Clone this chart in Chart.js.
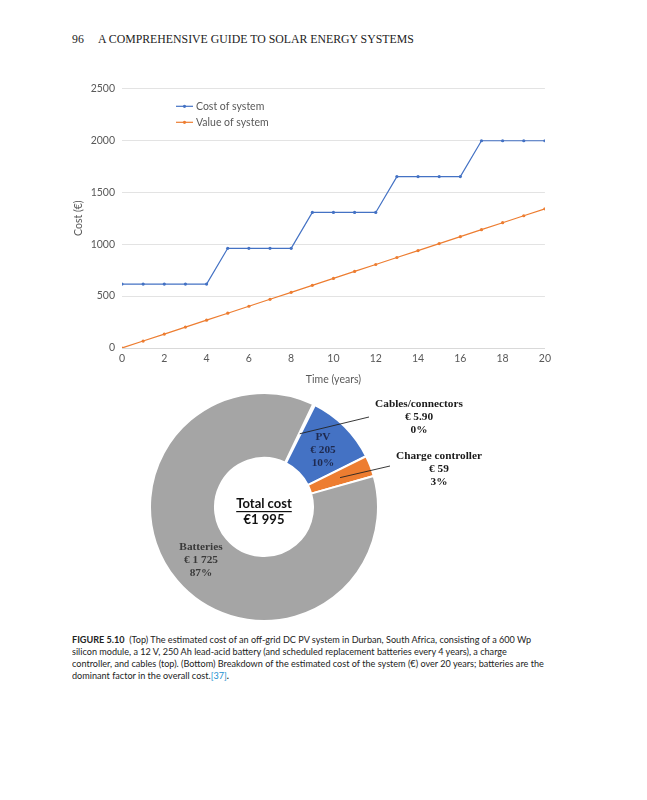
<!DOCTYPE html>
<html>
<head>
<meta charset="utf-8">
<script src="https://cdn.jsdelivr.net/npm/chart.js@4.4.1/dist/chart.umd.min.js"></script>
<style>
    body { margin: 0; background: #fff; width: 647px; height: 800px; position: relative; overflow: hidden; }
    #header { position: absolute; left: 72px; top: 32px; font-family: "Liberation Serif", "DejaVu Serif", serif; font-size: 11.8px; color: #222; white-space: nowrap; }
    #header span { display: inline-block; width: 26px; }
    #lineBox { position: absolute; left: 66px; top: 75px; width: 489px; height: 315px; }
    #pieBox { position: absolute; left: 130px; top: 390px; width: 400px; height: 235px; }
    #caption { position: absolute; left: 72px; top: 633px; font-family: Lato, "Noto Sans", sans-serif; font-size: 10px; line-height: 12px; color: #222; white-space: nowrap; transform: scaleX(0.91); transform-origin: left top; }
    #caption b { font-weight: 700; }
    #caption .ref { color: #1a8fd0; }
</style>
</head>
<body>
<div id="header"><span>96</span>A COMPREHENSIVE GUIDE TO SOLAR ENERGY SYSTEMS</div>
<div id="lineBox"><canvas id="lineChart"></canvas></div>
<div id="pieBox"><canvas id="pieChart"></canvas></div>
<div id="caption"><b>FIGURE 5.10</b>&nbsp; (Top) The estimated cost of an off-grid DC PV system in Durban, South Africa, consisting of a 600 Wp<br>silicon module, a 12 V, 250 Ah lead-acid battery (and scheduled replacement batteries every 4 years), a charge<br>controller, and cables (top). (Bottom) Breakdown of the estimated cost of the system (€) over 20 years; batteries are the<br>dominant factor in the overall cost.<span class="ref">[37]</span><b>.</b></div>

<script>
// donnees du graphique du haut
const years = [0, 1, 2, 3, 4, 5, 6, 7, 8, 9, 10, 11, 12, 13, 14, 15, 16, 17, 18, 19, 20];
const costOfSystem = [615, 615, 615, 615, 615, 960, 960, 960, 960, 1305, 1305, 1305, 1305, 1650, 1650, 1650, 1650, 1995, 1995, 1995, 1995];
const valueOfSystem = [0, 67, 134, 201, 268, 335, 402, 469, 536, 603, 670, 737, 804, 871, 938, 1005, 1072, 1139, 1206, 1273, 1340];
const seriesNames = ['Cost of system', 'Value of system'];

// donnees du graphique du bas
const pieLabels = ['Cables/connectors', 'PV', 'Charge controller', 'Batteries'];
const pieCosts = [5.9, 205, 59, 1725];
const pieCostText = ['€ 5.90', '€ 205', '€ 59', '€ 1 725'];
const piePercents = ['0%', '10%', '3%', '87%'];
const totalText = '€1 995';

const BLUE = '#4472C4';
const ORANGE = '#ED7D31';
const GREY_TXT = '#595959';
const TICK_FONT = {family: 'Lato, "Noto Sans", sans-serif', size: 10.5};

function toPoints(xs, ys) {
    return xs.map((x, i) => ({x: x, y: ys[i]}));
}

// legende dessinee a la main (style Excel, a l'interieur du graphique)
const innerLegend = {
    id: 'innerLegend',
    afterDraw(chart) {
        const ctx = chart.ctx;
        const x0 = chart.chartArea.left + 54;
        let y = chart.chartArea.top + 18;
        ctx.save();
        ctx.font = '10.5px Lato, "Noto Sans", sans-serif';
        ctx.textBaseline = 'middle';
        for (const ds of chart.data.datasets) {
            ctx.strokeStyle = ds.borderColor;
            ctx.lineWidth = 1.2;
            ctx.beginPath();
            ctx.moveTo(x0, y);
            ctx.lineTo(x0 + 17, y);
            ctx.stroke();
            ctx.fillStyle = ds.borderColor;
            ctx.beginPath();
            ctx.arc(x0 + 8.5, y, 1.6, 0, Math.PI * 2);
            ctx.fill();
            ctx.fillStyle = GREY_TXT;
            ctx.fillText(ds.label, x0 + 20, y);
            y += 16;
        }
        ctx.restore();
    }
};

new Chart(document.getElementById('lineChart').getContext('2d'), {
    type: 'line',
    data: {
        datasets: [{
            label: seriesNames[0],
            data: toPoints(years, costOfSystem),
            borderColor: BLUE,
            backgroundColor: BLUE,
            borderWidth: 1.2,
            pointRadius: 1.6,
            pointBorderWidth: 0
        }, {
            label: seriesNames[1],
            data: toPoints(years, valueOfSystem),
            borderColor: ORANGE,
            backgroundColor: ORANGE,
            borderWidth: 1.2,
            pointRadius: 1.6,
            pointBorderWidth: 0
        }]
    },
    options: {
        responsive: true,
        maintainAspectRatio: false,
        animation: false,
        layout: {padding: {top: 7, right: 10}},
        plugins: {legend: {display: false}, tooltip: {enabled: false}},
        scales: {
            x: {
                type: 'linear',
                min: 0, max: 20,
                ticks: {stepSize: 2, color: GREY_TXT, font: TICK_FONT, padding: 4, maxRotation: 0},
                grid: {display: false, drawTicks: false},
                border: {color: '#d9d9d9'},
                title: {display: true, text: 'Time (years)', color: GREY_TXT, font: TICK_FONT, padding: {top: 2}},
                afterFit: s => { s.height = 42; }
            },
            y: {
                min: 0, max: 2500,
                ticks: {stepSize: 500, color: GREY_TXT, font: TICK_FONT, padding: 7, callback: v => String(v)},
                grid: {color: '#e3e3e3', drawTicks: false},
                border: {display: false},
                title: {display: true, text: 'Cost (€)', color: GREY_TXT, font: TICK_FONT, padding: {top: 6, bottom: 0}},
                afterFit: s => { s.width = 56; }
            }
        }
    },
    plugins: [innerLegend]
});

// etiquettes, lignes de rappel et texte central du donut
const pieAnnotations = {
    id: 'pieAnnotations',
    afterDraw(chart) {
        const ctx = chart.ctx;
        const arcs = chart.getDatasetMeta(0).data;
        const cx = arcs[0].x, cy = arcs[0].y;
        ctx.save();

        // texte central
        ctx.textAlign = 'center';
        ctx.textBaseline = 'middle';
        ctx.fillStyle = '#111';
        ctx.font = 'bold 13px Lato, "Noto Sans", sans-serif';
        ctx.fillText('Total cost', cx, cy - 3);
        const w = ctx.measureText('Total cost').width;
        ctx.fillRect(cx - w / 2, cy + 4, w, 1.2);
        ctx.fillText(totalText, cx, cy + 13);

        // lignes de rappel
        ctx.strokeStyle = '#222';
        ctx.lineWidth = 0.9;
        const leaders = [[0, 105, -90], [2, 126, -41]];
        for (const [i, ex, ey] of leaders) {
            const p = arcs[i].tooltipPosition();
            ctx.beginPath();
            ctx.moveTo(p.x, p.y);
            ctx.lineTo(cx + ex, cy + ey);
            ctx.stroke();
        }

        // etiquettes
        ctx.font = 'bold 11.3px "Liberation Serif", "DejaVu Serif", serif';
        const spots = [[155, -103, '#1a1a1a'], [59, -70, '#1f2a4f'], [175, -51, '#1a1a1a'], [-63, 40, '#3a3a3a']];
        spots.forEach(([dx, dy, col], i) => {
            ctx.fillStyle = col;
            const lines = [pieLabels[i], pieCostText[i], piePercents[i]];
            lines.forEach((t, k) => ctx.fillText(t, cx + dx, cy + dy + k * 13));
        });
        ctx.restore();
    }
};

new Chart(document.getElementById('pieChart').getContext('2d'), {
    type: 'doughnut',
    data: {
        labels: pieLabels,
        datasets: [{
            data: pieCosts,
            backgroundColor: ['#FFE699', BLUE, ORANGE, '#A5A5A5'],
            borderColor: '#ffffff',
            borderWidth: 2
        }]
    },
    options: {
        responsive: true,
        maintainAspectRatio: false,
        animation: false,
        rotation: 25.5,
        cutout: '43%',
        layout: {padding: {left: 18, right: 150, top: 2, bottom: 3}},
        plugins: {legend: {display: false}, tooltip: {enabled: false}}
    },
    plugins: [pieAnnotations]
});
</script>
</body>
</html>
